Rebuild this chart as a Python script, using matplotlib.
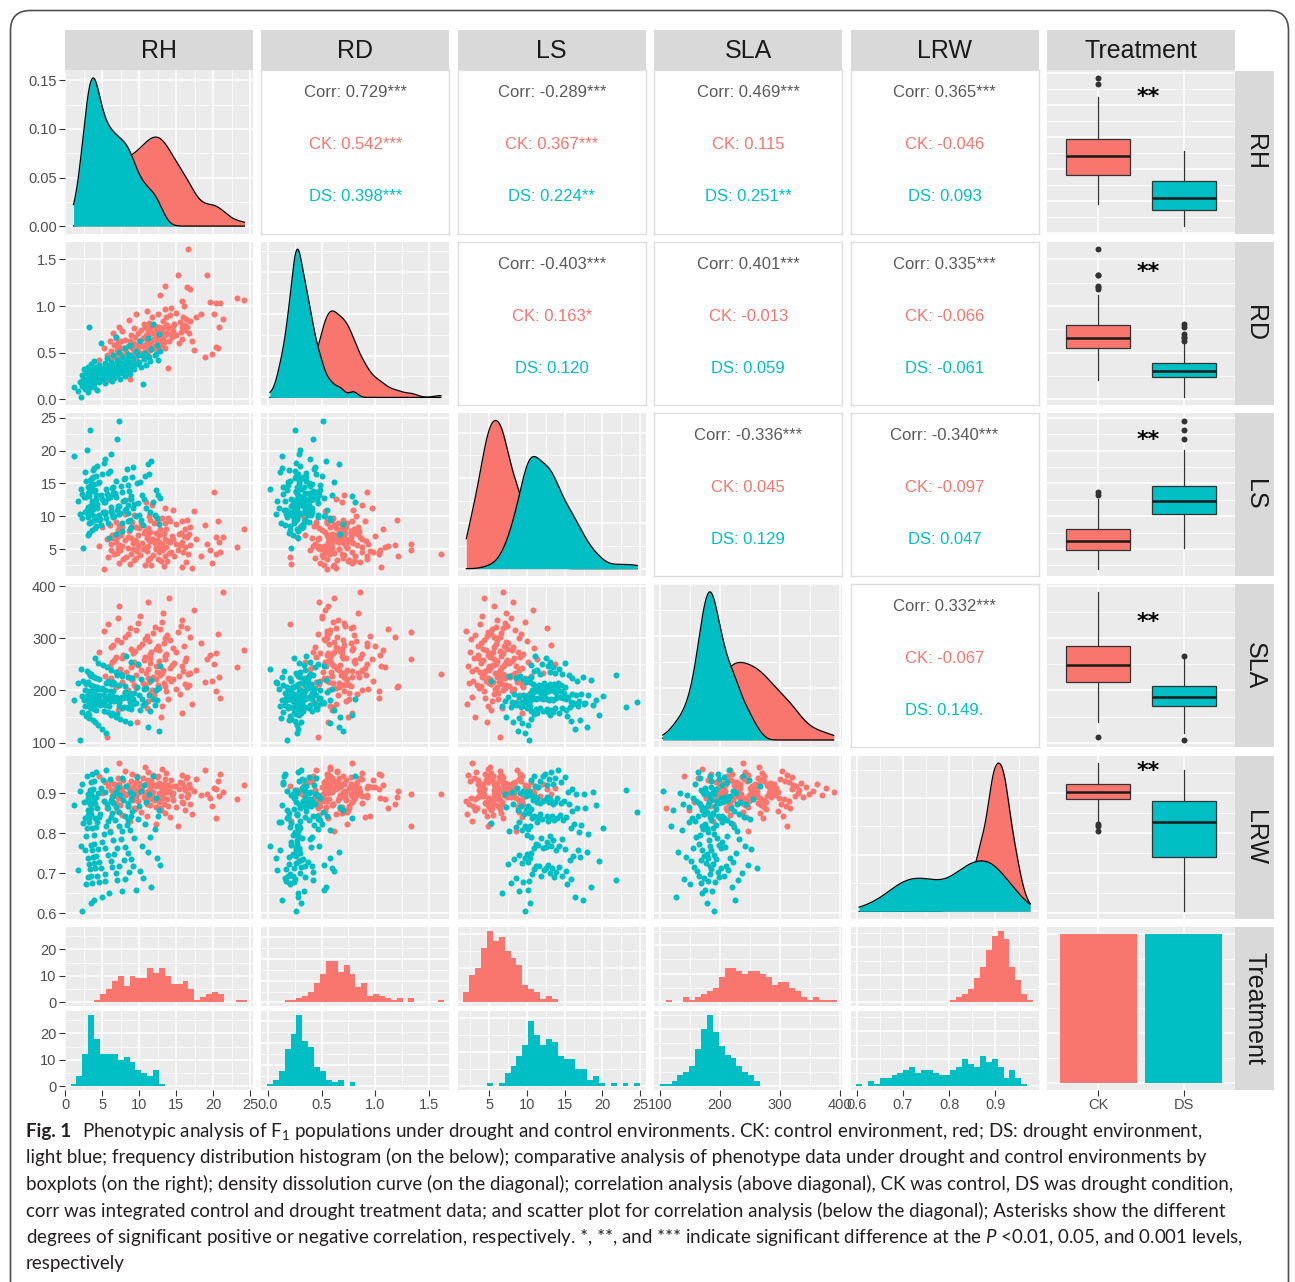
import numpy as np
import matplotlib
matplotlib.use("Agg")
import matplotlib.pyplot as plt
from matplotlib.patches import FancyBboxPatch, Rectangle
from matplotlib.ticker import MaxNLocator

plt.rcParams["font.family"] = ["Liberation Sans", "DejaVu Sans"]
plt.rcParams["mathtext.fontset"] = "custom"
plt.rcParams["mathtext.rm"] = "Lato"
plt.rcParams["mathtext.it"] = "Lato:italic"
plt.rcParams["mathtext.bf"] = "Lato:bold"

# ------------------------------------------------------------------ data
TRAITS = ["RH", "RD", "LS", "SLA", "LRW"]
GROUPS = ["CK", "DS"]
GROUP_COLORS = ["#F8766D", "#00BFC4"]

# control (CK) plants, one value per individual, same order in every list
RH_CK = [4.5, 4.9, 5.2, 5.4, 5.6, 5.8, 6.0, 6.1, 6.2, 6.3,
         6.4, 6.5, 6.6, 6.8, 6.9, 7.0, 7.0, 7.1, 7.1, 7.2,
         7.2, 7.3, 7.4, 7.5, 7.6, 7.7, 7.8, 8.0, 8.1, 8.2,
         8.4, 8.5, 8.6, 8.7, 8.7, 8.8, 8.9, 9.0, 9.1, 9.2,
         9.3, 9.3, 9.4, 9.5, 9.5, 9.6, 9.7, 9.8, 9.8, 10.0,
         10.1, 10.2, 10.4, 10.5, 10.6, 10.7, 10.8, 10.8, 10.9, 11.0,
         11.0, 11.1, 11.1, 11.2, 11.2, 11.3, 11.3, 11.4, 11.4, 11.5,
         11.5, 11.6, 11.7, 11.8, 11.9, 12.0, 12.1, 12.2, 12.3, 12.3,
         12.4, 12.5, 12.5, 12.6, 12.6, 12.7, 12.8, 12.8, 12.9, 13.0,
         13.1, 13.1, 13.2, 13.2, 13.3, 13.3, 13.4, 13.4, 13.5, 13.5,
         13.6, 13.6, 13.7, 13.8, 13.9, 14.0, 14.1, 14.2, 14.3, 14.4,
         14.5, 14.6, 14.7, 14.9, 15.0, 15.2, 15.3, 15.5, 15.6, 15.7,
         15.7, 15.8, 15.9, 16.0, 16.1, 16.2, 16.3, 16.4, 16.5, 16.6,
         16.7, 16.8, 16.9, 17.1, 17.4, 17.7, 18.3, 18.8, 19.2, 19.5,
         19.8, 20.1, 20.3, 20.4, 20.6, 20.7, 20.9, 21.3, 23.2, 24.2]
RD_CK = [0.42, 0.30, 0.55, 0.38, 0.47, 0.21, 0.62, 0.44, 0.52, 0.35,
         0.71, 0.48, 0.58, 0.45, 0.66, 0.53, 0.27, 0.60, 0.50, 0.78,
         0.43, 0.56, 0.39, 0.62, 0.48, 0.73, 0.55, 0.33, 0.64, 0.51,
         0.57, 0.47, 0.85, 0.22, 0.63, 0.41, 0.69, 0.55, 0.60, 0.49,
         0.76, 0.53, 0.67, 0.44, 0.58, 0.91, 0.56, 0.71, 0.52, 0.63,
         0.50, 0.74, 0.57, 0.66, 0.81, 0.58, 0.77, 0.52, 0.69, 0.61,
         0.95, 0.55, 0.73, 0.48, 0.64, 0.82, 0.57, 0.70, 0.60, 0.76,
         0.53, 0.62, 0.88, 0.57, 0.71, 0.65, 0.79, 0.54, 0.66, 0.74,
         0.59, 0.92, 0.70, 0.56, 0.78, 0.63, 1.12, 0.68, 0.75, 0.61,
         0.72, 0.58, 0.84, 0.66, 0.77, 0.61, 0.97, 0.69, 1.21, 0.55,
         0.88, 0.71, 0.80, 0.34, 0.76, 0.62, 0.90, 0.70, 0.98, 0.67,
         0.79, 0.73, 0.81, 0.69, 0.93, 1.33, 0.60, 0.83, 0.72, 1.05,
         0.78, 0.65, 0.88, 1.00, 0.74, 0.80, 0.86, 1.20, 0.77, 1.61,
         0.71, 1.18, 0.84, 0.63, 0.53, 0.88, 0.92, 0.45, 1.33, 1.04,
         0.49, 0.92, 0.56, 1.03, 0.55, 0.78, 1.03, 0.86, 1.09, 1.07]
LS_CK = [5.5, 8.3, 2.0, 10.6, 6.5, 3.8, 8.6, 5.7, 4.8, 7.2,
         13.2, 6.7, 4.2, 9.1, 6.0, 4.4, 6.9, 5.2, 7.9, 2.8,
         8.5, 5.6, 4.8, 7.2, 5.5, 8.3, 3.5, 10.4, 6.4, 3.8,
         6.8, 5.2, 7.8, 2.7, 12.6, 6.7, 4.2, 9.1, 5.9, 5.0,
         3.4, 10.2, 6.4, 3.7, 8.4, 6.2, 4.7, 7.1, 5.5, 8.2,
         4.1, 9.0, 5.9, 5.0, 7.4, 5.1, 7.7, 2.6, 12.1, 6.7,
         4.7, 7.1, 5.4, 8.2, 3.3, 10.0, 6.3, 3.6, 9.5, 6.2,
         7.6, 2.5, 11.7, 6.6, 4.1, 9.0, 5.9, 5.0, 7.4, 5.1,
         6.3, 3.5, 9.4, 6.1, 4.6, 7.1, 5.4, 8.1, 3.2, 9.8,
         5.8, 4.9, 7.3, 5.0, 7.5, 2.4, 11.3, 6.6, 4.0, 8.9,
         5.3, 8.1, 3.1, 9.7, 6.2, 4.4, 9.3, 6.1, 4.6, 7.0,
         11.0, 6.5, 4.0, 8.8, 5.8, 4.9, 7.3, 5.6, 7.4, 2.2,
         9.3, 6.1, 4.5, 7.0, 5.3, 8.0, 3.0, 9.5, 6.8, 4.3,
         7.3, 5.6, 8.4, 2.1, 10.8, 6.5, 3.9, 8.7, 5.7, 4.8,
         2.9, 13.7, 6.8, 4.3, 9.2, 6.0, 4.5, 6.9, 5.3, 8.0]
SLA_CK = [274, 203, 314, 228, 110, 327, 247, 283, 223, 254,
          288, 213, 258, 264, 207, 297, 232, 163, 338, 238,
          177, 362, 241, 293, 216, 262, 268, 195, 303, 235,
          200, 309, 226, 188, 320, 245, 279, 220, 251, 272,
          210, 255, 276, 204, 315, 229, 140, 329, 249, 284,
          343, 239, 289, 214, 259, 265, 208, 298, 233, 167,
          305, 223, 180, 370, 242, 294, 217, 263, 269, 196,
          252, 273, 201, 311, 226, 191, 322, 246, 280, 221,
          236, 285, 211, 256, 277, 205, 317, 230, 149, 332,
          234, 171, 348, 240, 290, 215, 260, 266, 209, 300,
          270, 198, 306, 224, 183, 377, 243, 296, 218, 249,
          281, 222, 253, 274, 202, 312, 227, 193, 324, 247,
          157, 335, 237, 286, 212, 257, 263, 206, 319, 231,
          210, 302, 234, 174, 355, 240, 291, 216, 261, 267,
          219, 250, 271, 199, 308, 225, 186, 389, 244, 278]
LRW_CK = [0.944, 0.901, 0.881, 0.927, 0.864, 0.918, 0.806, 0.909, 0.928, 0.892,
          0.899, 0.877, 0.924, 0.875, 0.916, 0.855, 0.907, 0.938, 0.890, 0.975,
          0.887, 0.922, 0.871, 0.914, 0.846, 0.905, 0.934, 0.896, 0.955, 0.897,
          0.920, 0.867, 0.912, 0.831, 0.911, 0.930, 0.894, 0.948, 0.902, 0.884,
          0.863, 0.917, 0.861, 0.909, 0.927, 0.892, 0.943, 0.900, 0.880, 0.926,
          0.915, 0.853, 0.907, 0.937, 0.890, 0.965, 0.898, 0.889, 0.924, 0.874,
          0.843, 0.905, 0.933, 0.895, 0.953, 0.904, 0.886, 0.922, 0.870, 0.913,
          0.910, 0.930, 0.893, 0.946, 0.902, 0.883, 0.920, 0.866, 0.919, 0.824,
          0.940, 0.891, 0.942, 0.900, 0.879, 0.925, 0.862, 0.917, 0.859, 0.908,
          0.889, 0.961, 0.898, 0.888, 0.923, 0.873, 0.915, 0.850, 0.906, 0.936,
          0.951, 0.903, 0.885, 0.921, 0.869, 0.913, 0.841, 0.904, 0.932, 0.895,
          0.901, 0.882, 0.919, 0.865, 0.918, 0.818, 0.910, 0.929, 0.893, 0.945,
          0.878, 0.925, 0.876, 0.916, 0.857, 0.908, 0.939, 0.891, 0.941, 0.899,
          0.923, 0.872, 0.914, 0.848, 0.906, 0.935, 0.896, 0.958, 0.897, 0.887,
          0.868, 0.912, 0.837, 0.911, 0.931, 0.894, 0.949, 0.903, 0.885, 0.921]

# drought (DS) plants
RH_DS = [1.1, 1.7, 2.0, 2.1, 2.2, 2.3, 2.4, 2.5, 2.6, 2.7,
         2.8, 2.85, 2.9, 2.9, 3.0, 3.0, 3.0, 3.1, 3.1, 3.1,
         3.2, 3.2, 3.2, 3.2, 3.3, 3.3, 3.3, 3.4, 3.4, 3.4,
         3.5, 3.5, 3.5, 3.5, 3.6, 3.6, 3.6, 3.6, 3.7, 3.7,
         3.7, 3.8, 3.8, 3.8, 3.9, 3.9, 3.9, 4.0, 4.0, 4.0,
         4.1, 4.1, 4.2, 4.2, 4.3, 4.3, 4.3, 4.4, 4.4, 4.5,
         4.5, 4.6, 4.7, 4.8, 4.8, 4.9, 5.0, 5.1, 5.2, 5.2,
         5.3, 5.3, 5.4, 5.4, 5.5, 5.5, 5.6, 5.7, 5.7, 5.8,
         5.9, 6.0, 6.0, 6.1, 6.1, 6.2, 6.3, 6.3, 6.4, 6.5,
         6.5, 6.6, 6.7, 6.8, 6.8, 6.9, 7.0, 7.0, 7.1, 7.2,
         7.2, 7.3, 7.4, 7.5, 7.6, 7.6, 7.7, 7.8, 7.9, 8.0,
         8.0, 8.1, 8.2, 8.3, 8.4, 8.4, 8.5, 8.5, 8.6, 8.7,
         8.7, 8.8, 8.9, 8.9, 9.0, 9.1, 9.2, 9.3, 9.5, 9.7,
         9.8, 9.9, 10.1, 10.2, 10.3, 10.5, 10.6, 10.8, 10.9, 11.1,
         11.3, 11.4, 11.6, 11.9, 12.1, 12.3, 12.4, 12.5, 12.6, 12.8]
RD_DS = [0.13, 0.09, 0.18, 0.02, 0.26, 0.14, 0.22, 0.33, 0.11, 0.19,
         0.28, 0.21, 0.15, 0.30, 0.24, 0.08, 0.27, 0.18, 0.35, 0.23,
         0.12, 0.26, 0.20, 0.78, 0.29, 0.17, 0.25, 0.22, 0.31, 0.14,
         0.27, 0.24, 0.19, 0.38, 0.26, 0.21, 0.16, 0.28, 0.25, 0.20,
         0.33, 0.27, 0.13, 0.29, 0.23, 0.41, 0.26, 0.18, 0.31, 0.24,
         0.28, 0.21, 0.35, 0.26, 0.10, 0.30, 0.23, 0.27, 0.29, 0.24,
         0.37, 0.19, 0.27, 0.60, 0.32, 0.22, 0.28, 0.34, 0.26, 0.33,
         0.21, 0.39, 0.29, 0.17, 0.31, 0.27, 0.44, 0.24, 0.30, 0.36,
         0.28, 0.32, 0.25, 0.40, 0.29, 0.35, 0.20, 0.31, 0.47, 0.27,
         0.34, 0.23, 0.38, 0.67, 0.30, 0.36, 0.26, 0.42, 0.33, 0.29,
         0.51, 0.35, 0.22, 0.39, 0.34, 0.45, 0.28, 0.37, 0.31, 0.55,
         0.40, 0.25, 0.36, 0.43, 0.38, 0.30, 0.49, 0.35, 0.42, 0.27,
         0.58, 0.39, 0.33, 0.46, 0.36, 0.41, 0.44, 0.32, 0.52, 0.38,
         0.47, 0.40, 0.62, 0.35, 0.48, 0.16, 0.43, 0.50, 0.37, 0.66,
         0.45, 0.41, 0.54, 0.81, 0.47, 0.49, 0.58, 0.42, 0.70, 0.52]
LS_DS = [19.2, 12.3, 10.3, 14.2, 9.8, 13.4, 5.2, 12.9, 16.7, 10.7,
         13.0, 15.3, 10.9, 20.1, 11.4, 10.4, 14.4, 9.9, 13.6, 7.1,
         8.9, 13.7, 7.5, 13.1, 15.6, 11.0, 23.1, 11.5, 10.4, 14.5,
         11.7, 10.5, 14.7, 9.1, 13.8, 7.9, 12.4, 15.8, 11.1, 17.0,
         16.0, 11.2, 17.4, 11.8, 10.0, 14.9, 9.35, 14.0, 8.2, 12.5,
         13.2, 8.5, 12.6, 16.1, 11.3, 17.7, 11.9, 10.1, 15.1, 9.5,
         10.2, 15.2, 9.6, 13.3, 8.7, 12.7, 16.4, 10.6, 18.1, 12.1,
         10.7, 18.8, 12.2, 10.3, 14.1, 9.7, 13.4, 8.9, 12.8, 16.6,
         6.7, 12.9, 16.9, 10.8, 19.5, 11.4, 10.3, 14.3, 9.9, 13.5,
         14.5, 10.0, 13.6, 7.3, 13.0, 15.4, 10.9, 21.8, 11.5, 10.4,
         24.6, 11.6, 10.5, 14.6, 9.0, 13.7, 7.7, 12.4, 15.7, 11.0,
         12.5, 15.9, 11.1, 17.2, 11.7, 10.5, 14.8, 9.2, 13.9, 8.0,
         9.4, 13.1, 8.3, 12.6, 16.0, 11.2, 17.5, 11.9, 10.1, 15.0,
         12.0, 10.2, 15.2, 9.5, 13.2, 8.6, 12.7, 16.2, 11.3, 17.9,
         16.5, 10.6, 18.5, 12.1, 10.2, 14.0, 9.7, 13.3, 8.8, 12.8]
SLA_DS = [181, 214, 105, 242, 190, 158, 218, 182, 171, 200,
          212, 151, 238, 189, 156, 216, 187, 170, 199, 180,
          148, 234, 188, 153, 229, 186, 169, 198, 179, 211,
          231, 194, 166, 227, 185, 168, 196, 178, 209, 143,
          193, 165, 225, 185, 167, 195, 177, 207, 139, 262,
          163, 223, 184, 174, 203, 176, 206, 133, 252, 192,
          221, 183, 173, 202, 175, 204, 127, 248, 191, 161,
          183, 172, 201, 181, 215, 118, 244, 190, 159, 219,
          171, 199, 180, 213, 152, 240, 189, 157, 217, 182,
          198, 179, 212, 149, 236, 188, 155, 230, 186, 170,
          178, 210, 146, 232, 187, 167, 228, 186, 169, 197,
          208, 141, 266, 194, 166, 226, 185, 168, 196, 177,
          137, 255, 193, 164, 224, 184, 174, 195, 176, 207,
          250, 192, 162, 222, 184, 173, 203, 175, 205, 130,
          191, 160, 220, 183, 172, 201, 181, 204, 122, 246]
LRW_DS = [0.870, 0.708, 0.906, 0.769, 0.605, 0.924, 0.825, 0.878, 0.757, 0.837,
          0.793, 0.672, 0.944, 0.813, 0.888, 0.739, 0.845, 0.859, 0.690, 0.899,
          0.827, 0.879, 0.723, 0.838, 0.872, 0.710, 0.908, 0.771, 0.625, 0.928,
          0.847, 0.861, 0.692, 0.900, 0.759, 0.675, 0.948, 0.814, 0.890, 0.741,
          0.911, 0.774, 0.633, 0.931, 0.796, 0.880, 0.726, 0.839, 0.873, 0.712,
          0.952, 0.816, 0.891, 0.743, 0.829, 0.862, 0.694, 0.901, 0.761, 0.678,
          0.728, 0.840, 0.849, 0.714, 0.913, 0.778, 0.641, 0.934, 0.799, 0.881,
          0.698, 0.902, 0.762, 0.681, 0.958, 0.817, 0.874, 0.745, 0.831, 0.864,
          0.650, 0.936, 0.803, 0.882, 0.731, 0.841, 0.851, 0.716, 0.893, 0.782,
          0.875, 0.748, 0.832, 0.865, 0.701, 0.903, 0.764, 0.684, 0.915, 0.819,
          0.853, 0.718, 0.895, 0.785, 0.655, 0.938, 0.806, 0.883, 0.733, 0.842,
          0.766, 0.686, 0.917, 0.821, 0.876, 0.751, 0.834, 0.867, 0.703, 0.904,
          0.809, 0.885, 0.735, 0.843, 0.855, 0.719, 0.897, 0.788, 0.659, 0.940,
          0.836, 0.868, 0.706, 0.905, 0.767, 0.688, 0.920, 0.823, 0.877, 0.754,
          0.898, 0.790, 0.665, 0.942, 0.811, 0.887, 0.737, 0.844, 0.857, 0.721]

# correlation annotations of the upper triangle (row trait, column trait)
CORR_PAIRS = [("RH", "RD"), ("RH", "LS"), ("RH", "SLA"), ("RH", "LRW"),
              ("RD", "LS"), ("RD", "SLA"), ("RD", "LRW"),
              ("LS", "SLA"), ("LS", "LRW"), ("SLA", "LRW")]
CORR_ALL = ["0.729***", "-0.289***", "0.469***", "0.365***",
            "-0.403***", "0.401***", "0.335***",
            "-0.336***", "-0.340***", "0.332***"]
CORR_CK = ["0.542***", "0.367***", "0.115", "-0.046",
           "0.163*", "-0.013", "-0.066",
           "0.045", "-0.097", "-0.067"]
CORR_DS = ["0.398***", "0.224**", "0.251**", "0.093",
           "0.120", "0.059", "-0.061",
           "0.129", "0.047", "0.149."]
BOX_SIG = ["**", "**", "**", "**", "**"]

TRAIT_BREAKS = {"RH": [0, 5, 10, 15, 20, 25], "RD": [0.0, 0.5, 1.0, 1.5],
                "LS": [5, 10, 15, 20, 25], "SLA": [100, 200, 300, 400],
                "LRW": [0.6, 0.7, 0.8, 0.9]}
TRAIT_FMT = {"RH": "{:.0f}", "RD": "{:.1f}", "LS": "{:.0f}", "SLA": "{:.0f}", "LRW": "{:.1f}"}

CAPTION_BOLD = "Fig. 1"
CAPTION_LINES = [
    "Phenotypic analysis of F$_1$ populations under drought and control environments. CK: control environment, red; DS: drought environment,",
    "light blue; frequency distribution histogram (on the below); comparative analysis of phenotype data under drought and control environments by",
    "boxplots (on the right); density dissolution curve (on the diagonal); correlation analysis (above diagonal), CK was control, DS was drought condition,",
    "corr was integrated control and drought treatment data; and scatter plot for correlation analysis (below the diagonal); Asterisks show the different",
    "degrees of significant positive or negative correlation, respectively. *, **, and *** indicate significant difference at the $P$ <0.01, 0.05, and 0.001 levels,",
    "respectively",
]

data = {
    "CK": {"RH": np.array(RH_CK), "RD": np.array(RD_CK), "LS": np.array(LS_CK),
           "SLA": np.array(SLA_CK), "LRW": np.array(LRW_CK)},
    "DS": {"RH": np.array(RH_DS), "RD": np.array(RD_DS), "LS": np.array(LS_DS),
           "SLA": np.array(SLA_DS), "LRW": np.array(LRW_DS)},
}

# ------------------------------------------------------------------ layout
W, H = 1295, 1282
fig = plt.figure(figsize=(W / 100, H / 100), dpi=100)
COL_X = [65 + 196.4 * k for k in range(6)]
ROW_Y = [70.5 + 171.3 * k for k in range(6)]
PW, PH = 188, 163

PANEL_BG = "#EBEBEB"
STRIP_BG = "#D9D9D9"
TICK_COL = "#333333"
LABEL_COL = "#4D4D4D"
TICK_SIZE = 10.5


def add_px_axes(x, y, w, h):
    return fig.add_axes([x / W, 1 - (y + h) / H, w / W, h / H])


def expand(lo, hi, mult=0.05):
    d = hi - lo
    return lo - mult * d, hi + mult * d


def all_values(trait):
    return np.concatenate([data[g][trait] for g in GROUPS])


LIMS = {t: expand(all_values(t).min(), all_values(t).max()) for t in TRAITS}


def minor_of(majors, lo, hi):
    if len(majors) < 2:
        return []
    step = majors[1] - majors[0]
    cand = [majors[0] - step / 2 + step * k for k in range(len(majors) + 1)]
    return [v for v in cand if lo <= v <= hi]


def nice_breaks(lo, hi):
    loc = MaxNLocator(nbins=4, steps=[1, 2, 2.5, 5, 10])
    return [v for v in loc.tick_values(lo, hi) if lo <= v <= hi]


def style(ax, xlim, ylim, xmaj, ymaj, xminor=True, yminor=True):
    ax.set_facecolor(PANEL_BG)
    for s in ax.spines.values():
        s.set_visible(False)
    ax.set_xlim(*xlim)
    ax.set_ylim(*ylim)
    xin = [v for v in xmaj if xlim[0] <= v <= xlim[1]]
    yin = [v for v in ymaj if ylim[0] <= v <= ylim[1]]
    if xminor:
        for v in minor_of(xmaj, *xlim):
            ax.axvline(v, color="white", lw=0.55, zorder=0.5)
    if yminor:
        for v in minor_of(ymaj, *ylim):
            ax.axhline(v, color="white", lw=0.55, zorder=0.5)
    for v in xin:
        ax.axvline(v, color="white", lw=1.1, zorder=0.6)
    for v in yin:
        ax.axhline(v, color="white", lw=1.1, zorder=0.6)
    ax.set_xticks(xin)
    ax.set_yticks(yin)
    ax.tick_params(length=0, labelbottom=False, labelleft=False)
    return xin, yin


def left_labels(ax, ticks, labels):
    ax.set_yticks(ticks)
    ax.set_yticklabels(labels)
    ax.tick_params(axis="y", length=4, width=0.8, color=TICK_COL, labelleft=True,
                   labelsize=TICK_SIZE, labelcolor=LABEL_COL, pad=2)


def bottom_labels(ax, ticks, labels):
    ax.set_xticks(ticks)
    ax.set_xticklabels(labels)
    ax.tick_params(axis="x", length=4, width=0.8, color=TICK_COL, labelbottom=True,
                   labelsize=TICK_SIZE, labelcolor=LABEL_COL, pad=2)


def kde(vals, grid):
    v = np.asarray(vals, dtype=float)
    n = len(v)
    sd = v.std(ddof=1)
    q75, q25 = np.percentile(v, [75, 25])
    spread = min(sd, (q75 - q25) / 1.34) if q75 > q25 else sd
    bw = 0.9 * spread * n ** -0.2
    z = (grid[:, None] - v[None, :]) / bw
    return np.exp(-0.5 * z * z).sum(axis=1) / (n * bw * np.sqrt(2 * np.pi))


def fmt_list(ticks, fmt):
    return [fmt.format(v) for v in ticks]


# background layer in pixel coordinates: frame, strips, caption
pax = fig.add_axes([0, 0, 1, 1], zorder=-5)
pax.set_xlim(0, W)
pax.set_ylim(H, 0)
pax.axis("off")
pax.add_patch(FancyBboxPatch((10.5, 10.5), 1278, 1400,
                             boxstyle="round,pad=0,rounding_size=20",
                             fill=False, ec="#505050", lw=1.2))

top_names = TRAITS + ["Treatment"]
for j, name in enumerate(top_names):
    pax.add_patch(Rectangle((COL_X[j], 30), PW, 40.5, fc=STRIP_BG, ec="none"))
    pax.text(COL_X[j] + PW / 2, 50.5, name, ha="center", va="center",
             fontsize=18, color="#1A1A1A")
for i, name in enumerate(top_names):
    pax.add_patch(Rectangle((1235, ROW_Y[i]), 39, PH, fc=STRIP_BG, ec="none"))
    pax.text(1254.5, ROW_Y[i] + PH / 2, name, ha="center", va="center",
             rotation=-90, fontsize=18, color="#1A1A1A")

# ------------------------------------------------------------------ panels
BOX_SIG_Y = [0.837, 0.815, 0.835, 0.77, 0.906]
BOX_XLIM = (0.4, 2.6)

for i in range(6):
    for j in range(6):
        x0, y0 = COL_X[j], ROW_Y[i]
        if i == 5 and j < 5:
            # histograms faceted by treatment
            t = TRAITS[j]
            allv = all_values(t)
            lo, hi = allv.min(), allv.max()
            bw = (hi - lo) / 29
            edges = lo - bw / 2 + bw * np.arange(31)
            cmax = max(np.histogram(data[g][t], edges)[0].max() for g in GROUPS)
            ylim = (-0.05 * cmax, 1.05 * cmax)
            fac_y = [927, 1011]
            for k, g in enumerate(GROUPS):
                ax = add_px_axes(x0, fac_y[k], PW, 79)
                xin, yin = style(ax, LIMS[t], ylim, TRAIT_BREAKS[t], [0, 10, 20, 30])
                ax.hist(data[g][t], bins=edges, color=GROUP_COLORS[k], lw=0, zorder=2)
                if j == 0:
                    left_labels(ax, yin, fmt_list(yin, "{:.0f}"))
                if k == 1:
                    bottom_labels(ax, xin, fmt_list(xin, TRAIT_FMT[t]))
        elif i == 5 and j == 5:
            ax = add_px_axes(x0, y0, PW, PH)
            counts = [len(data[g]["RH"]) for g in GROUPS]
            cm = max(counts)
            style(ax, BOX_XLIM, (-0.05 * cm, 1.05 * cm), [1, 2], [0, 50, 100, 150],
                  xminor=False)
            ax.bar([1, 2], counts, width=0.9, color=GROUP_COLORS, zorder=2)
            bottom_labels(ax, [1, 2], GROUPS)
        elif j == 5:
            t = TRAITS[i]
            ax = add_px_axes(x0, y0, PW, PH)
            style(ax, BOX_XLIM, LIMS[t], [1, 2], TRAIT_BREAKS[t], xminor=False)
            bp = ax.boxplot([data[g][t] for g in GROUPS], positions=[1, 2], widths=0.75,
                            patch_artist=True, showcaps=False, whis=1.5, manage_ticks=False,
                            boxprops=dict(edgecolor="#333333", linewidth=0.9),
                            whiskerprops=dict(color="#333333", linewidth=0.9),
                            medianprops=dict(color="#1A1A1A", linewidth=1.8),
                            flierprops=dict(marker="o", markerfacecolor="#333333",
                                            markeredgecolor="none", markersize=4.3),
                            zorder=2)
            for patch, col in zip(bp["boxes"], GROUP_COLORS):
                patch.set_facecolor(col)
            ax.text(1.58, BOX_SIG_Y[i], BOX_SIG[i], transform=ax.get_xaxis_transform(),
                    ha="center", va="center", fontsize=16, fontweight="bold",
                    family="DejaVu Sans", color="black", zorder=3)
        elif i == j:
            t = TRAITS[i]
            ax = add_px_axes(x0, y0, PW, PH)
            allv = all_values(t)
            grid = np.linspace(allv.min(), allv.max(), 512)
            curves = [kde(data[g][t], grid) for g in GROUPS]
            ymax = max(c.max() for c in curves)
            ylim = (-0.05 * ymax, 1.05 * ymax)
            ymaj = [0, 0.05, 0.10, 0.15] if i == 0 else nice_breaks(0, ylim[1])
            style(ax, LIMS[t], ylim, TRAIT_BREAKS[t], ymaj)
            for c, col in zip(curves, GROUP_COLORS):
                ax.fill_between(grid, 0, c, color=col, lw=0, zorder=2)
                ax.plot(grid, c, color="black", lw=0.9, zorder=2)
            if j == 0:
                yin = [v for v in ymaj if ylim[0] <= v <= ylim[1]]
                left_labels(ax, yin, fmt_list(yin, "{:.2f}"))
        elif i > j:
            tx, ty = TRAITS[j], TRAITS[i]
            ax = add_px_axes(x0, y0, PW, PH)
            xin, yin = style(ax, LIMS[tx], LIMS[ty], TRAIT_BREAKS[tx], TRAIT_BREAKS[ty])
            for g, col in zip(GROUPS, GROUP_COLORS):
                ax.scatter(data[g][tx], data[g][ty], s=19, color=col, lw=0, zorder=2)
            if j == 0:
                left_labels(ax, yin, fmt_list(yin, TRAIT_FMT[ty]))
        else:
            k = CORR_PAIRS.index((TRAITS[i], TRAITS[j]))
            ax = add_px_axes(x0, y0, PW, PH)
            ax.set_facecolor("white")
            for s in ax.spines.values():
                s.set_color("#DEDEDE")
                s.set_linewidth(1.0)
            ax.set_xticks([])
            ax.set_yticks([])
            ax.text(0.5, 0.862, "Corr: " + CORR_ALL[k], color="#595959", ha="center",
                    va="center", fontsize=12, transform=ax.transAxes)
            ax.text(0.5, 0.543, "CK: " + CORR_CK[k], color=GROUP_COLORS[0], ha="center",
                    va="center", fontsize=12, transform=ax.transAxes)
            ax.text(0.5, 0.224, "DS: " + CORR_DS[k], color=GROUP_COLORS[1], ha="center",
                    va="center", fontsize=12, transform=ax.transAxes)

# ------------------------------------------------------------------ caption
CAP_X = 26
CAP_Y = [1137 + 26.5 * k for k in range(6)]
CAP_RIGHT = [1240, 1255, 1275, 1257, 1243]   # right end of each full line
renderer = fig.canvas.get_renderer()
BASE = 12.0


def line_width(k, size):
    t = pax.text(0, 0, CAPTION_LINES[k], fontsize=size, family="Lato")
    w = t.get_window_extent(renderer).width
    t.remove()
    if k == 0:
        b = pax.text(0, 0, CAPTION_BOLD, fontsize=size, family="Lato", fontweight="bold")
        w += b.get_window_extent(renderer).width + 0.6 * size * 100 / 72
        b.remove()
    return w


cap_size = min(BASE * (CAP_RIGHT[k] - CAP_X) / line_width(k, BASE) for k in range(5))

bold = pax.text(CAP_X, CAP_Y[0], CAPTION_BOLD, fontsize=cap_size, family="Lato",
                fontweight="bold", va="baseline", color="#231F20")
bold_w = bold.get_window_extent(renderer).width
for k, line in enumerate(CAPTION_LINES):
    x = CAP_X + (bold_w + 0.6 * cap_size * 100 / 72 if k == 0 else 0)
    pax.text(x, CAP_Y[k], line, fontsize=cap_size, family="Lato", va="baseline",
             color="#231F20")

fig.savefig("out.png", dpi=100)
